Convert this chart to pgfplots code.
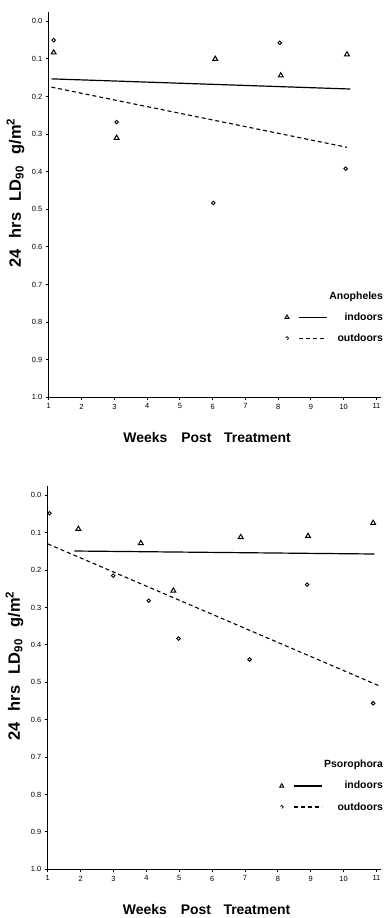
\documentclass[border=0pt]{standalone}
\usepackage{fontspec}
\setmainfont{Liberation Sans}
\usepackage{pgfplots}
\pgfplotsset{compat=1.18}
\begin{document}
\begin{tikzpicture}[x=1pt,y=1pt]
\path (0,0) rectangle (385,918);
\coordinate (TopO) at (49,519);
\coordinate (BotO) at (48,45);
\pgfplotsset{
 common/.style={
  scale only axis,
  xmin=1, xmax=11.15, ymin=-0.025, ymax=1.0, y dir=reverse,
  axis x line*=bottom, axis y line*=left,
  axis line style={line width=1.4pt},
  tick align=outside, major tick length=3pt,
  tick style={line width=0.9pt, black},
  xtick={1,2,3,4,5,6,7,8,9,10,11},
  ytick={0,0.1,0.2,0.3,0.4,0.5,0.6,0.7,0.8,0.9,1.0},
  yticklabel style={/pgf/number format/.cd, fixed, fixed zerofill, precision=1},
  /pgf/number format/assume math mode=true,
  ticklabel style={font=\fontsize{7.5}{8}\selectfont},
  xlabel={\textbf{Weeks\hspace{1em}Post\hspace{0.9em}Treatment}},
  xlabel style={font=\fontsize{14}{16}\selectfont, at={(axis description cs:0.476,-0.105)}, anchor=center},
  ylabel={\textbf{24\hspace{0.7em}hrs\hspace{0.7em}LD\textsubscript{90}\hspace{0.7em}g/m\textsuperscript{2}}},
  ylabel style={font=\fontsize{16.5}{18}\selectfont, at={(axis description cs:-0.1,0.53)}, anchor=center, rotate=0},
  clip=false,
  legend style={draw=none, fill=none, font=\fontsize{10.5}{12}\selectfont\bfseries, legend cell align=right, anchor=north east, row sep=8pt},
 },
 tri/.style={only marks, mark=triangle, mark size=2.8pt, mark options={line width=1pt, black}},
 circ/.style={only marks, mark=o, mark size=1.8pt, mark options={line width=0.9pt, black}},
 indl/.style={black, line width=1.2pt, legend image code/.code={\draw[black] plot[mark=triangle, mark size=2.3pt, mark options={line width=0.9pt}] coordinates {(0pt,0pt)}; \draw[##1] (12pt,0pt) -- (40pt,0pt);}},
 outl/.style={black, line width=1.1pt, dash pattern=on 4pt off 3pt, legend image code/.code={\draw[black] plot[mark=o, mark size=1.6pt, mark options={line width=0.8pt}] coordinates {(0pt,0pt)}; \draw[##1] (12pt,0pt) -- (40pt,0pt);}},
}
% Top panel: Anopheles
\begin{axis}[common, at={(TopO)}, anchor=south west, width=334pt, height=387pt,
  legend style={at={(axis description cs:1.02,0.285)}}]
\addlegendimage{empty legend}\addlegendentry{Anopheles}
\addplot[tri, forget plot] coordinates {(1.15,0.083) (3.07,0.31) (6.08,0.10) (8.08,0.144) (10.1,0.088)};
\addplot[circ, forget plot] coordinates {(1.15,0.05) (3.07,0.268) (6.02,0.483) (8.05,0.057) (10.06,0.392)};
\addplot[indl] coordinates {(1.08,0.153) (10.2,0.18)};
\addlegendentry{indoors}
\addplot[outl] coordinates {(1.08,0.175) (10.1,0.335)};
\addlegendentry{outdoors}
\end{axis}
% Bottom panel: Psorophora
\begin{axis}[common, at={(BotO)}, anchor=south west, width=335pt, height=385pt,
  legend style={at={(axis description cs:1.02,0.295)}}]
\addlegendimage{empty legend}\addlegendentry{Psorophora}
\addplot[tri, forget plot] coordinates {(1.93,0.09) (3.83,0.128) (4.82,0.255) (6.87,0.112) (8.92,0.109) (10.9,0.074)};
\addplot[circ, forget plot] coordinates {(1.05,0.048) (2.99,0.215) (4.07,0.282) (4.98,0.383) (7.14,0.439) (8.89,0.239) (10.9,0.556)};
\addplot[indl] coordinates {(1.81,0.149) (10.94,0.157)};
\addlegendentry{indoors}
\addplot[outl] coordinates {(1.0,0.13) (11.1,0.51)};
\addlegendentry{outdoors}
\end{axis}
\end{tikzpicture}
\end{document}
